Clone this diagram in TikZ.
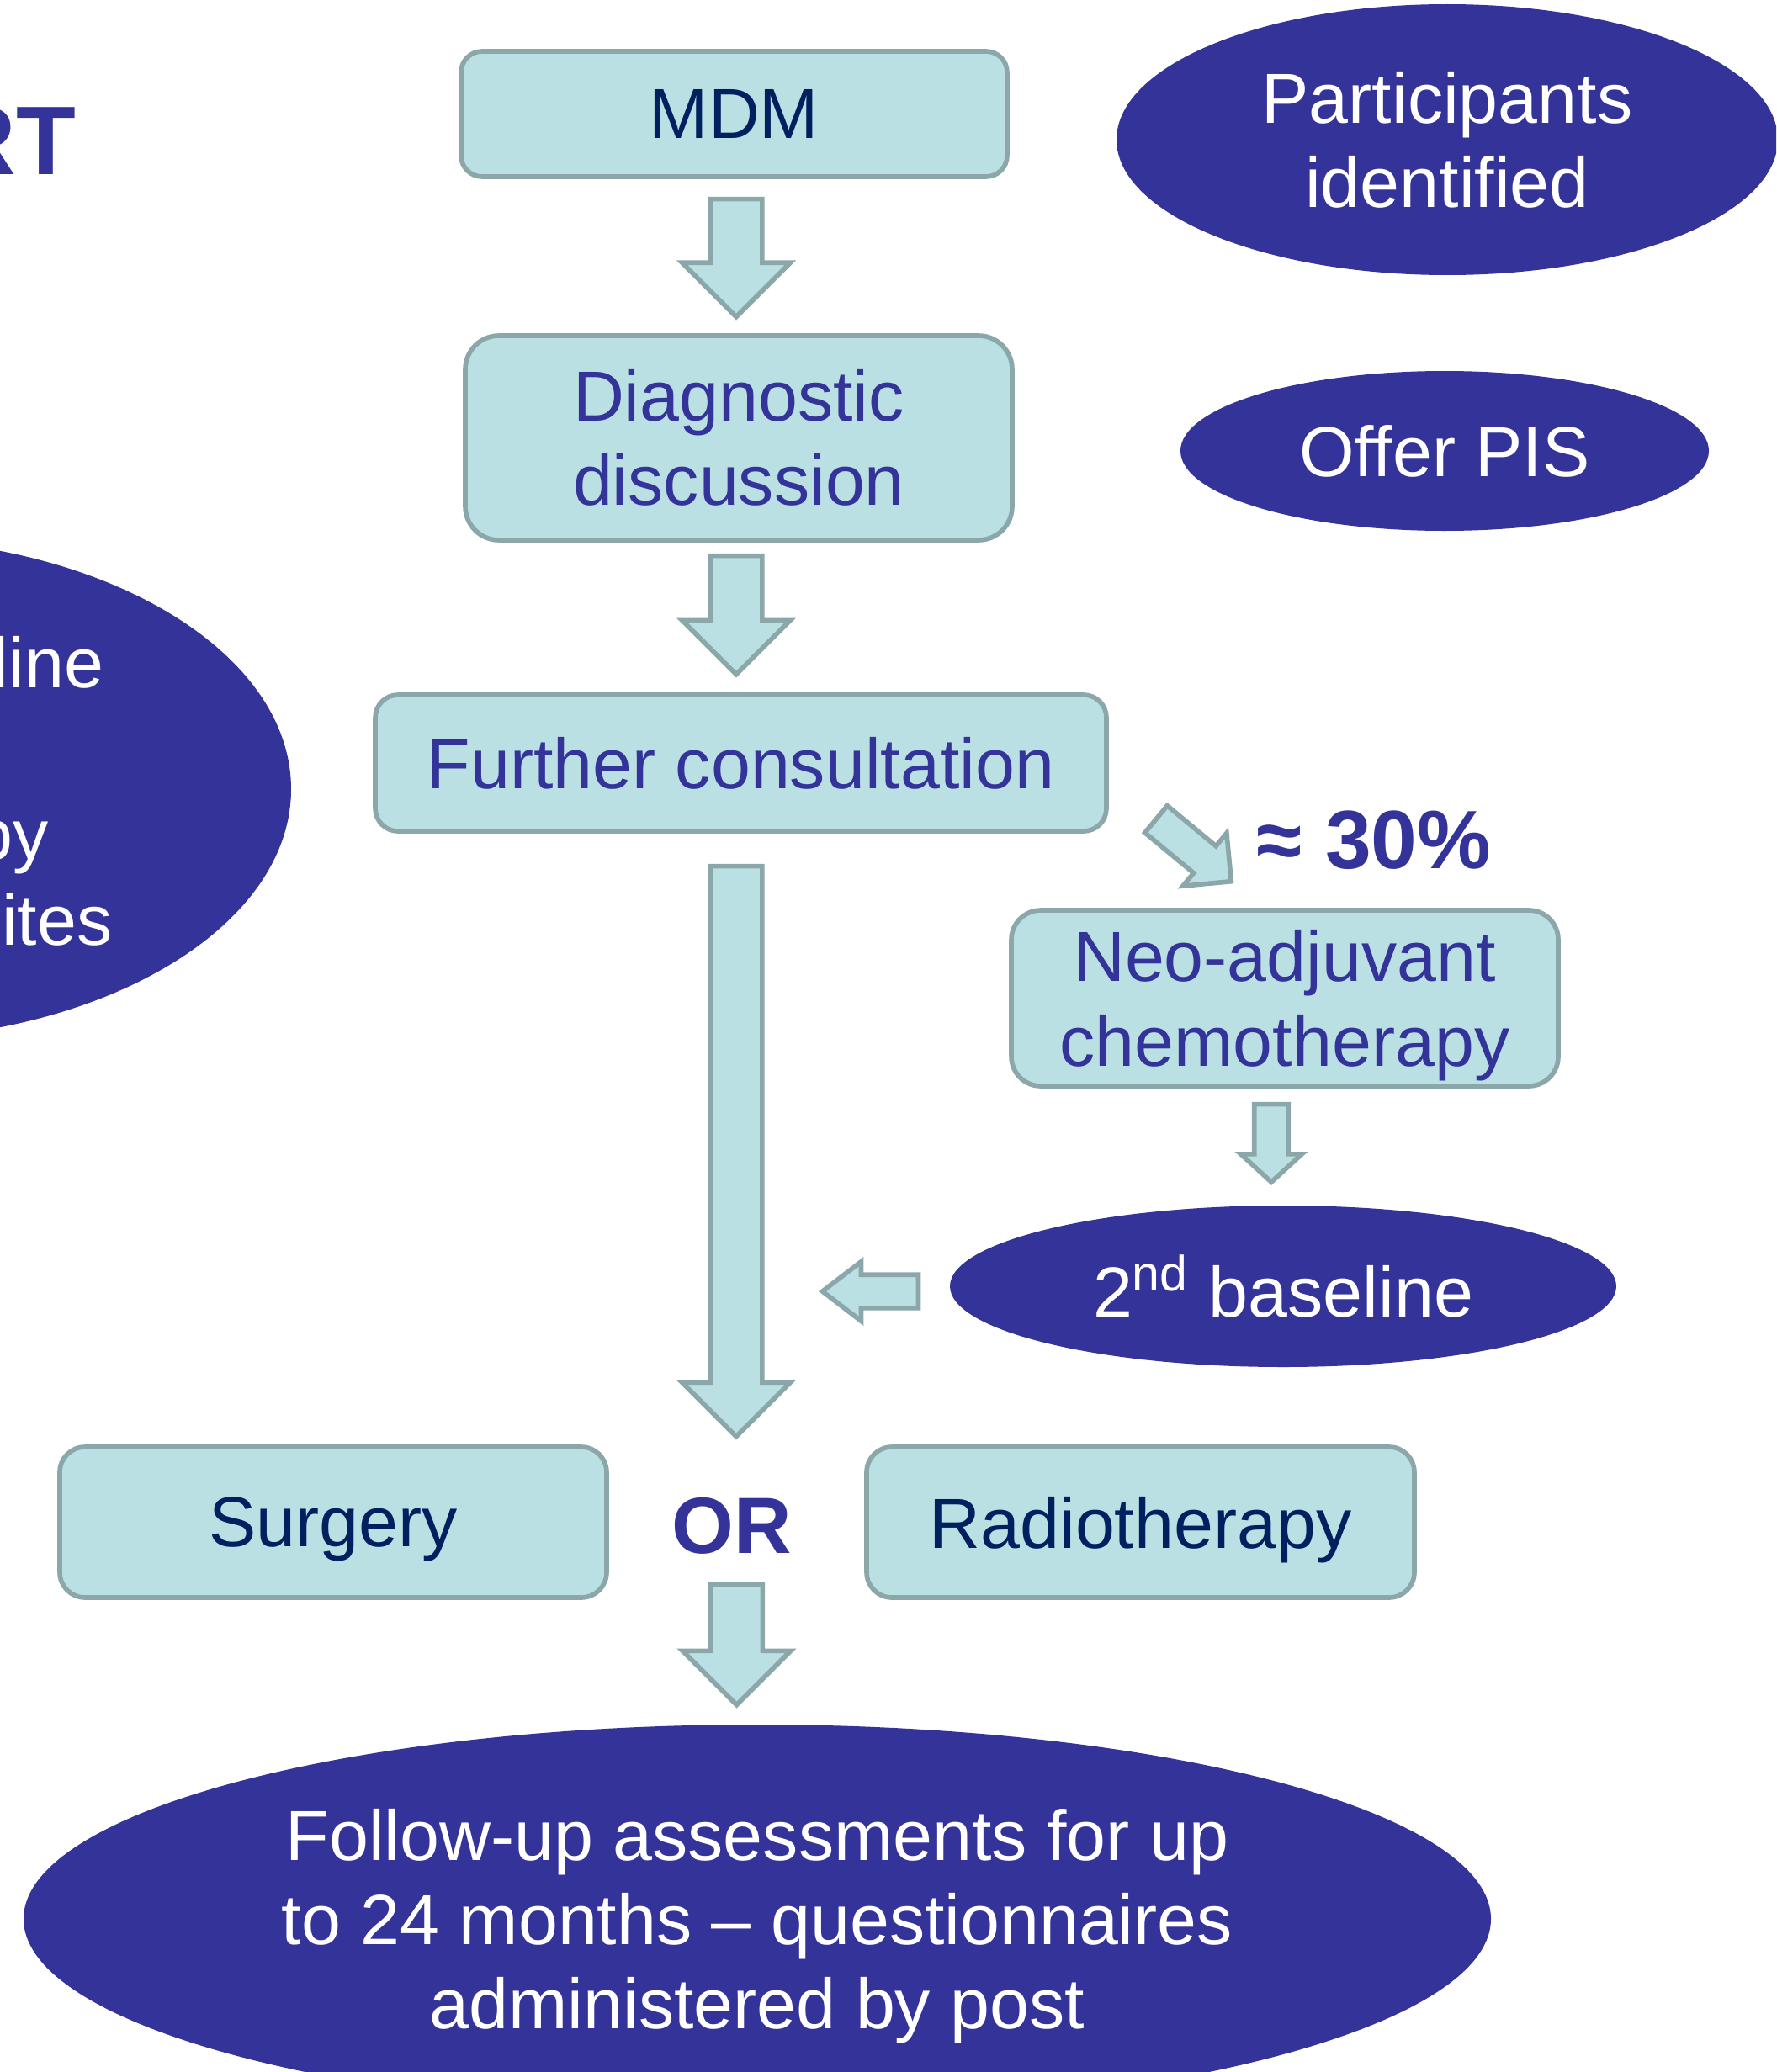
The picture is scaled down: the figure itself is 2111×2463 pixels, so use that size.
\documentclass[tikz,border=0pt]{standalone}
\usepackage{fontspec}
\setmainfont{Liberation Sans}
\usepackage{tikz}
\usetikzlibrary{calc, shapes.geometric, shapes.arrows}

\definecolor{boxfill}{HTML}{BAE0E3}
\definecolor{boxline}{HTML}{8BA7AA}
\definecolor{ovalblue}{HTML}{333399}
\definecolor{darknavy}{HTML}{002060}

\begin{document}
\begin{tikzpicture}
        [x=0.1mm, y=-0.1mm,
         stepbox/.style={rectangle, draw=boxline, fill=boxfill, line width=1.6pt, inner sep=0pt, align=center, font=\fontsize{24}{28.5}\selectfont},
         oval/.style={ellipse, fill=ovalblue, text=white, inner sep=0pt, align=center, font=\fontsize{24}{28.5}\selectfont},
         cut/.style={anchor=base east, inner sep=0pt, text=white, font=\fontsize{24}{28.5}\selectfont},
         blockarrow/.style={single arrow, anchor=tail, draw=boxline, fill=boxfill, line width=1.6pt, inner xsep=0pt, inner ysep=2.8mm, single arrow head extend=3.35mm, minimum height=#1}]
        \useasboundingbox (0,0) rectangle (2111,2463);
        \clip (0,0) rectangle (2111,2463);

        \node[anchor=base east, inner sep=0pt, text=ovalblue, font=\fontsize{33}{40}\selectfont\bfseries] (T) at (91,208) {RT};

        \node[oval, minimum width=100.6mm, minimum height=59.6mm] (L) at (-157,938) {};
        \node[cut] (L1) at (124,817) {line};
        \node[cut] (L2) at (58,1021) {py};
        \node[cut] (L3) at (134,1123) {ites};

        \node[oval, minimum width=78.6mm, minimum height=32.2mm] (P) at (1720,166) {Participants\\identified};
        \node[oval, minimum width=62.8mm, minimum height=19mm] (I) at (1717,536) {Offer PIS};

        \node[stepbox, rounded corners=2.5mm, minimum width=64.9mm, minimum height=14.9mm, text=darknavy] (M) at (872.5,135.5) {MDM};
        \node[stepbox, rounded corners=4mm, minimum width=65mm, minimum height=24.3mm, text=ovalblue] (D) at (878,520.5) {Diagnostic\\discussion};
        \node[stepbox, rounded corners=2.7mm, minimum width=86.9mm, minimum height=16.2mm, text=ovalblue] (F) at (880.5,907) {Further consultation};
        \node[stepbox, rounded corners=3.5mm, minimum width=65mm, minimum height=20.9mm, text=ovalblue, text depth=0pt] (N) at (1527,1186.5) {Neo-adjuvant\\chemotherapy};
        \node[stepbox, rounded corners=3mm, minimum width=65mm, minimum height=17.9mm, text=darknavy, text depth=0pt] (S) at (396,1809.5) {Surgery};
        \node[stepbox, rounded corners=3mm, minimum width=65.1mm, minimum height=17.9mm, text=darknavy, text depth=0pt] (R) at (1355.5,1809.5) {Radiotherapy};

        \node[inner sep=0pt, text=ovalblue, font=\fontsize{27}{32}\selectfont\bfseries] (OR) at (870,1814) {OR};
        \node[inner sep=0pt, text=ovalblue, font=\fontsize{28}{34}\selectfont\bfseries] (C) at (1633,999) {≈ 30\%};

        \node[oval, minimum width=79.2mm, minimum height=19.2mm] (B) at (1525,1529) {2\textsuperscript{nd} baseline};
        \node[oval, minimum width=174.4mm, minimum height=46.2mm, text depth=0pt] (U) at (900,2281) {Follow-up assessments for up\\to 24 months -- questionnaires\\administered by post};

        \node[blockarrow=14mm, rotate=-90] (a1) at ($(M.south)+(2.5,21)$) {};
        \node[blockarrow=14.1mm, rotate=-90] (a2) at ($(D.south)+(-3,13)$) {};
        \node[blockarrow=67.8mm, rotate=-90] (a3) at ($(F.south)+(-5.5,36)$) {};
        \node[blockarrow=14.3mm, rotate=-90] (a4) at ($(S.south east)!.5!(R.south west)+(0,-21)$) {};
        \node[blockarrow=9.25mm, inner ysep=1.75mm, single arrow head extend=1.6mm, single arrow tip angle=95, rotate=-90] (a5) at ($(N.south)+(-16,16)$) {};
        \node[blockarrow=11.4mm, inner ysep=1.7mm, single arrow head extend=1.55mm, single arrow tip angle=75, rotate=180] (a6) at ($(B.west)+(-34,6)$) {};
        \node[blockarrow=11.6mm, inner ysep=1.8mm, single arrow head extend=2mm, rotate=-39.6] (a7) at ($(F.east)+(54,65)$) {};
    \end{tikzpicture}
\end{document}
